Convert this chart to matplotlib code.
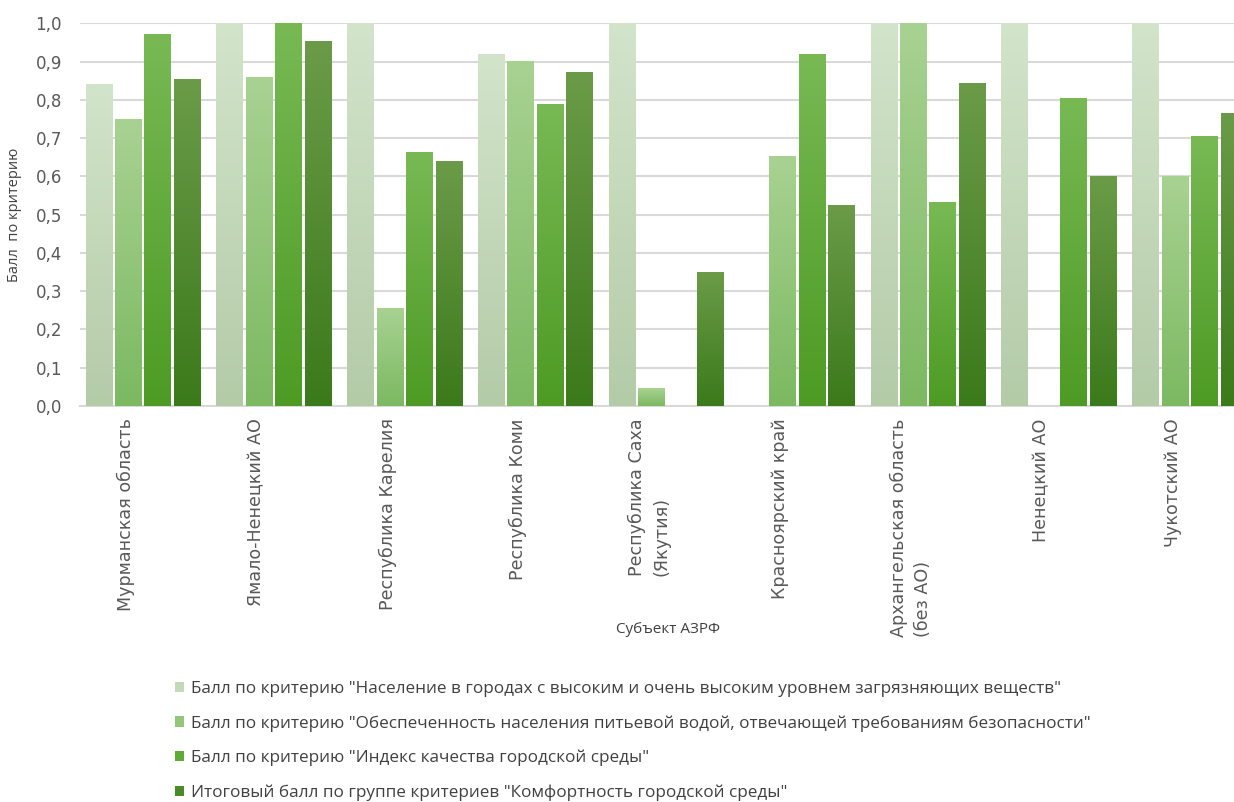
import numpy as np
import matplotlib.pyplot as plt
from matplotlib.colors import LinearSegmentedColormap
from matplotlib.patches import Patch
from matplotlib.ticker import FuncFormatter

regions = ["Мурманская область", "Ямало-Ненецкий АО", "Республика Карелия",
           "Республика Коми", "Республика Саха\n(Якутия)", "Красноярский край",
           "Архангельская область\n(без АО)", "Ненецкий АО", "Чукотский АО"]

s_pollution = [0.84, 1.00, 1.00, 0.92, 1.00, 0.00, 1.00, 1.00, 1.00]
s_water = [0.75, 0.86, 0.255, 0.90, 0.047, 0.652, 1.00, 0.00, 0.60]
s_urban = [0.97, 1.00, 0.663, 0.789, 0.00, 0.92, 0.533, 0.805, 0.705]
s_total = [0.854, 0.953, 0.64, 0.871, 0.348, 0.525, 0.843, 0.60, 0.765]

series_names = [
    'Балл по критерию "Население в городах с высоким и очень высоким уровнем загрязняющих веществ"',
    'Балл по критерию "Обеспеченность населения питьевой водой, отвечающей требованиям безопасности"',
    'Балл по критерию "Индекс качества городской среды"',
    'Итоговый балл по группе критериев "Комфортность городской среды"',
]
series = [s_pollution, s_water, s_urban, s_total]

# (верх, низ) градиента для каждого ряда
grad_colors = [("#d2e4ca", "#b4cba8"),
               ("#a8d292", "#7cb961"),
               ("#78b954", "#4d9b24"),
               ("#6b9b48", "#3b7a1b")]
legend_colors = ["#c4d9ba", "#93c67a", "#5eac34", "#4a8a28"]

fig = plt.figure(figsize=(12.34, 8.02), dpi=100)
ax = fig.add_axes([0.0648, 0.494, 1 - 0.0648, 0.477])

x = np.arange(len(regions))
step = 0.225
width = 0.2
offsets = (np.arange(4) - 1.5) * step

for i, vals in enumerate(series):
    bars = ax.bar(x + offsets[i], vals, width=width, color=legend_colors[i],
                  zorder=2, linewidth=0)
    cmap = LinearSegmentedColormap.from_list(f"g{i}", [grad_colors[i][1], grad_colors[i][0]])
    grad = np.linspace(0, 1, 128).reshape(-1, 1)
    for b in bars:
        h = b.get_height()
        if h <= 0:
            continue
        x0 = b.get_x()
        ax.imshow(grad, extent=[x0, x0 + b.get_width(), 0, h], origin="lower",
                  aspect="auto", cmap=cmap, zorder=3, interpolation="bilinear")

ax.set_xlim(-0.48, 8.34)
ax.set_ylim(0, 1.0)
ax.set_yticks(np.arange(0, 1.01, 0.1))
ax.yaxis.set_major_formatter(FuncFormatter(lambda v, p: f"{v:.1f}".replace(".", ",")))
ax.grid(axis="y", color="#d9d9d9", linewidth=1.5, zorder=0)
ax.set_axisbelow(True)
for side in ["top", "right", "left"]:
    ax.spines[side].set_visible(False)
ax.spines["bottom"].set_color("#d9d9d9")
ax.spines["bottom"].set_linewidth(1.5)

ax.set_xticks(x - 0.13)
ax.set_xticklabels(regions, rotation=90, fontsize=12.6, color="#595959",
                   family="DejaVu Sans", multialignment="left", linespacing=1.45)
ax.tick_params(axis="x", length=0, pad=9)
ax.tick_params(axis="y", length=0, labelsize=12, labelcolor="#595959", pad=13)

ax.set_ylabel("Балл  по критерию", fontsize=10.5, color="#404040", family="Open Sans", labelpad=10)
ax.set_xlabel("Субъект АЗРФ", fontsize=11, color="#404040", family="Open Sans")
ax.xaxis.set_label_coords(0.51, -0.565)

handles = [Patch(facecolor=c, edgecolor="none") for c in legend_colors]
fig.legend(handles, series_names, loc="upper left", bbox_to_anchor=(0.129, 0.17),
           frameon=False, labelspacing=1.06, handlelength=0.55,
           handleheight=0.55, handletextpad=0.4, labelcolor="#404040",
           prop={"family": "Open Sans", "size": 12.3})

fig.savefig("out.png", dpi=100)
